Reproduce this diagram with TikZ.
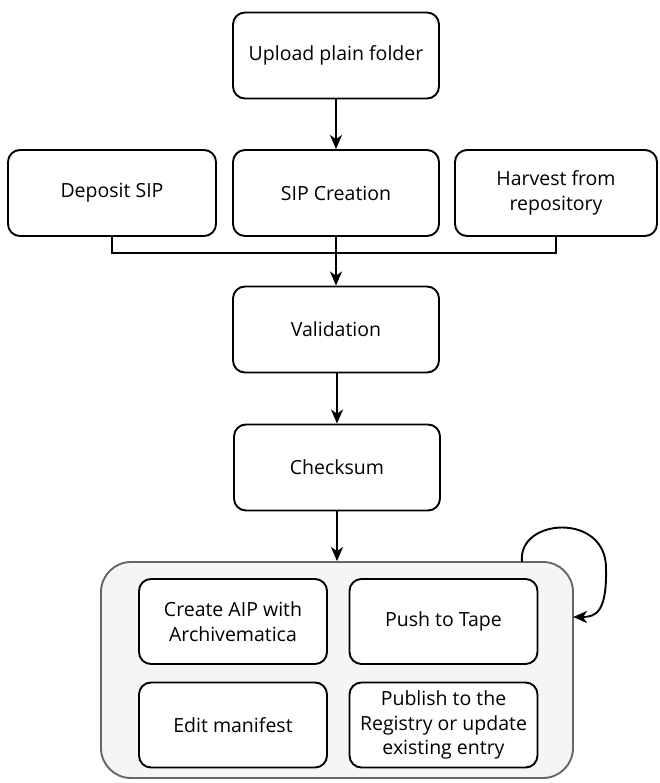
\documentclass[tikz,border=0pt]{standalone}
\usepackage{fontspec}
\setmainfont{Open Sans}
\usetikzlibrary{arrows.meta,positioning}
\definecolor{grpfill}{HTML}{F5F5F5}
\definecolor{grpdraw}{HTML}{666666}
\tikzset{
  stepbox/.style={draw=black, line width=1.9pt, rounded corners=12pt, fill=white,
    minimum width=206pt, minimum height=86pt, align=center, inner sep=2pt,
    font=\fontsize{19.5}{24.5}\selectfont},
  smallbox/.style={stepbox, minimum width=188pt, minimum height=85pt},
  conn/.style={line width=1.9pt, draw=black},
  arr/.style={conn, -{Stealth[length=14pt,width=12pt,inset=4pt]}},
}
\begin{document}
\begin{tikzpicture}[x=1pt,y=-1pt]
\useasboundingbox (0,0) rectangle (659,783);
\node[stepbox] (up) at (336,55.5) {Upload plain folder};
\node[stepbox, minimum width=208pt] (dep) at (112,193) {Deposit SIP};
\node[stepbox] (sip) at (336,193) {SIP Creation};
\node[stepbox, minimum width=202pt] (har) at (556,193) {Harvest from\\repository};
\node[stepbox] (val) at (336,329.5) {Validation};
\node[stepbox] (chk) at (337,467.5) {Checksum};
\node[draw=grpdraw, fill=grpfill, line width=1.9pt, rounded corners=30pt,
  minimum width=472pt, minimum height=216pt] (grp) at (337,670) {};
\node[smallbox] (aip) at (233,621.5) {Create AIP with\\Archivematica};
\node[smallbox] (tape) at (443.5,621.5) {Push to Tape};
\node[smallbox] (man) at (233,725) {Edit manifest};
\node[smallbox] (pub) at (443.5,725) {Publish to the\\Registry or update\\existing entry};
\draw[arr] (up.south) -- (sip.north);
\draw[conn] (dep.south) -- ++(0,16) -| (har.south);
\draw[arr] (sip.south) -- (val.north);
\draw[arr] (val.south -| chk.north) -- (chk.north);
\draw[arr] (chk.south) -- (grp.north -| chk.south);
\coordinate (la) at (522,562);
\coordinate (lb) at (573,617);
\draw[arr] (la) .. controls (517,518) and (606,512) .. (606,568)
  .. controls (607,612) and (596,617) .. (lb);
\end{tikzpicture}
\end{document}
